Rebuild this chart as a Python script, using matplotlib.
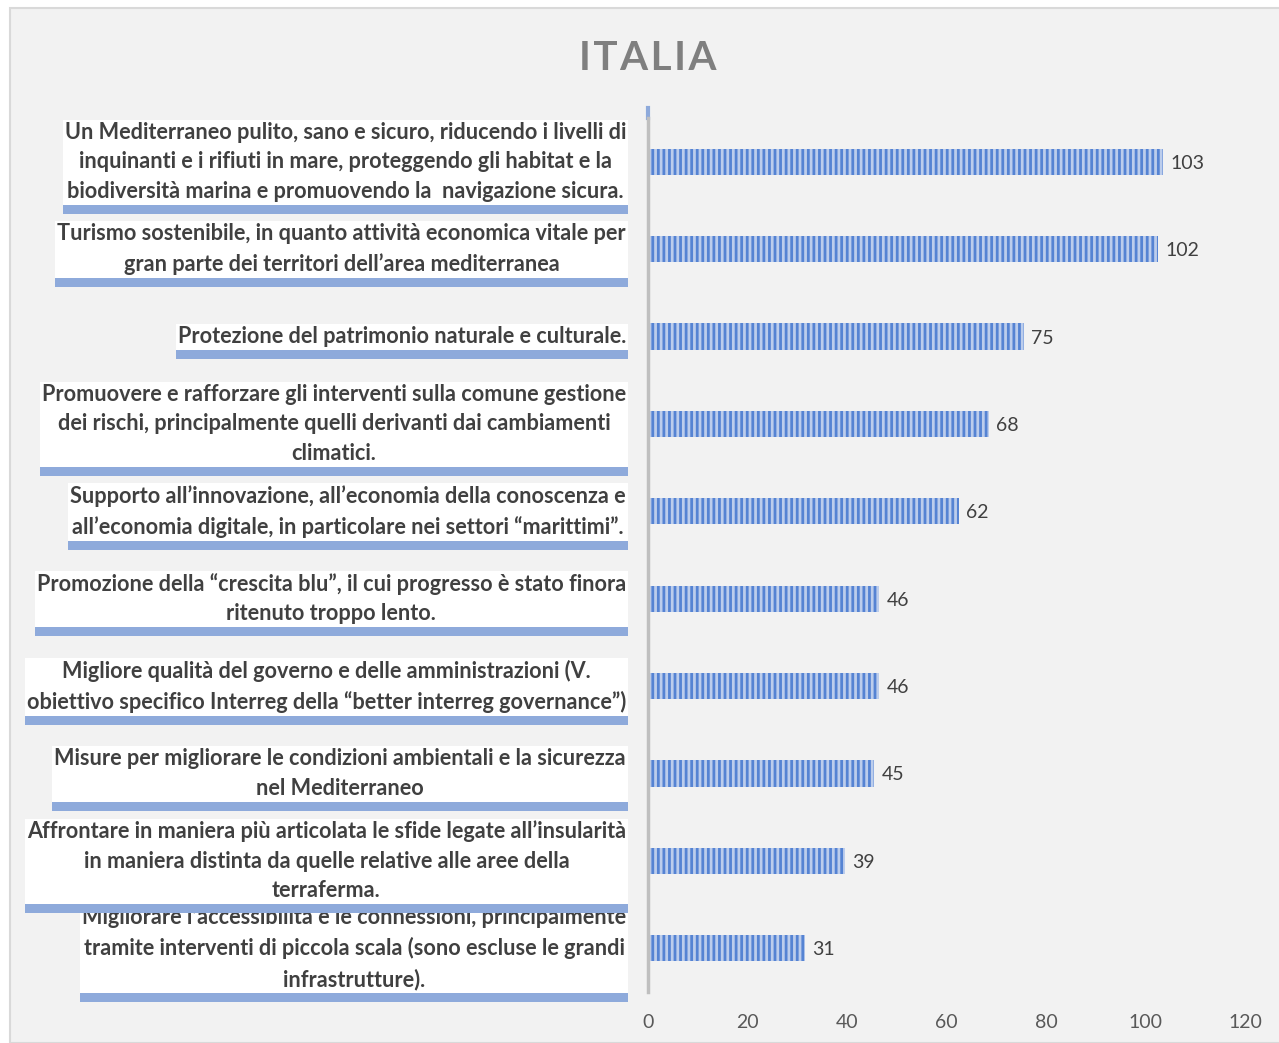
import matplotlib.pyplot as plt
from matplotlib.patches import Rectangle
from matplotlib.transforms import blended_transform_factory

plt.rcParams['font.family'] = ['Lato', 'DejaVu Sans']
plt.rcParams['hatch.linewidth'] = 2.0

# priorities (top to bottom) and number of mentions
categorie = [
    "Un Mediterraneo pulito, sano e sicuro, riducendo i livelli di\n"
    "inquinanti e i rifiuti in mare, proteggendo gli habitat e la\n"
    "biodiversità marina e promuovendo la  navigazione sicura.",
    "Turismo sostenibile, in quanto attività economica vitale per\n"
    "gran parte dei territori dell’area mediterranea",
    "Protezione del patrimonio naturale e culturale.",
    "Promuovere e rafforzare gli interventi sulla comune gestione\n"
    "dei rischi, principalmente quelli derivanti dai cambiamenti\n"
    "climatici.",
    "Supporto all’innovazione, all’economia della conoscenza e\n"
    "all’economia digitale, in particolare nei settori “marittimi”.",
    "Promozione della “crescita blu”, il cui progresso è stato finora\n"
    "ritenuto troppo lento.",
    "Migliore qualità del governo e delle amministrazioni (V.\n"
    "obiettivo specifico Interreg della “better interreg governance”)",
    "Misure per migliorare le condizioni ambientali e la sicurezza\n"
    "nel Mediterraneo",
    "Affrontare in maniera più articolata le sfide legate all’insularità\n"
    "in maniera distinta da quelle relative alle aree della\n"
    "terraferma.",
    "Migliorare l’accessibilità e le connessioni, principalmente\n"
    "tramite interventi di piccola scala (sono escluse le grandi\n"
    "infrastrutture).",
]
valori = [103, 102, 75, 68, 62, 46, 46, 45, 39, 31]
xticks = [0, 20, 40, 60, 80, 100, 120]

W, H = 1279, 1043
fig = plt.figure(figsize=(W / 100, H / 100), dpi=100)
fig.patch.set_facecolor('white')
# chart area frame
fig.patches.append(Rectangle((10 / W, 0), 1, 1 - 8 / H, transform=fig.transFigure,
                             facecolor='#f2f2f2', edgecolor='#d9d9d9', lw=1.5, zorder=-10))

ax = fig.add_axes([648 / W, 1 - 992 / H, (1245 - 648) / W, (992 - 118) / H])
ax.set_facecolor('none')

y = list(range(len(valori)))
bars = ax.barh(y, valori, height=0.3, left=0.5, color='#bccdec', edgecolor='#5583d3',
               hatch='|||', linewidth=0)
for b, v in zip(bars, valori):
    ax.text(b.get_x() + b.get_width() + 1.5, b.get_y() + b.get_height() / 2, str(v),
            va='center_baseline', ha='left', fontsize=14, color='#404040')

ax.set_xlim(0, 120)
ax.set_ylim(len(valori) - 0.5, -0.5)
ax.set_xticks(xticks)
ax.set_yticks([])
ax.tick_params(axis='x', length=0, labelsize=14, labelcolor='#595959', pad=16)
for s in ['top', 'right', 'bottom']:
    ax.spines[s].set_visible(False)
ax.spines['left'].set_color('#bfbfbf')
ax.spines['left'].set_linewidth(2.5)
ax.plot([0, 0], [-0.5, -0.62], color='#8eaadb', lw=3, clip_on=False)

fig.text(648 / W, 1 - 58 / H, '\u200a'.join('ITALIA'), ha='center', va='center',
         fontsize=29, fontweight='bold', color='#7f7f7f')

# category labels: white box with a blue band underneath
tr = blended_transform_factory(fig.transFigure, ax.transData)
testi = []
for i, lab in enumerate(categorie):
    t = ax.text(626 / W, i, lab, transform=tr, ha='right', va='center', multialignment='center',
                fontsize=15.6, fontweight='bold', color='#404040', linespacing=1.5,
                zorder=20 + 3 * (len(categorie) - i), clip_on=False)
    testi.append(t)

fig.canvas.draw()
r = fig.canvas.get_renderer()
for t in testi:
    bb = t.get_window_extent(r)
    z = t.get_zorder()
    x0 = (bb.x0 - 2) / W
    x1 = 628 / W
    y0 = (bb.y0 - 3) / H
    y1 = (bb.y1 + 2) / H
    ax.add_patch(Rectangle((x0, y0), x1 - x0, y1 - y0, transform=fig.transFigure,
                           facecolor='white', edgecolor='none', zorder=z - 1, clip_on=False))
    ax.add_patch(Rectangle((x0, y0 - 9 / H), x1 - x0, 9 / H, transform=fig.transFigure,
                           facecolor='#8eaadb', edgecolor='none', zorder=z - 0.5, clip_on=False))

fig.savefig('out.png', dpi=100)
